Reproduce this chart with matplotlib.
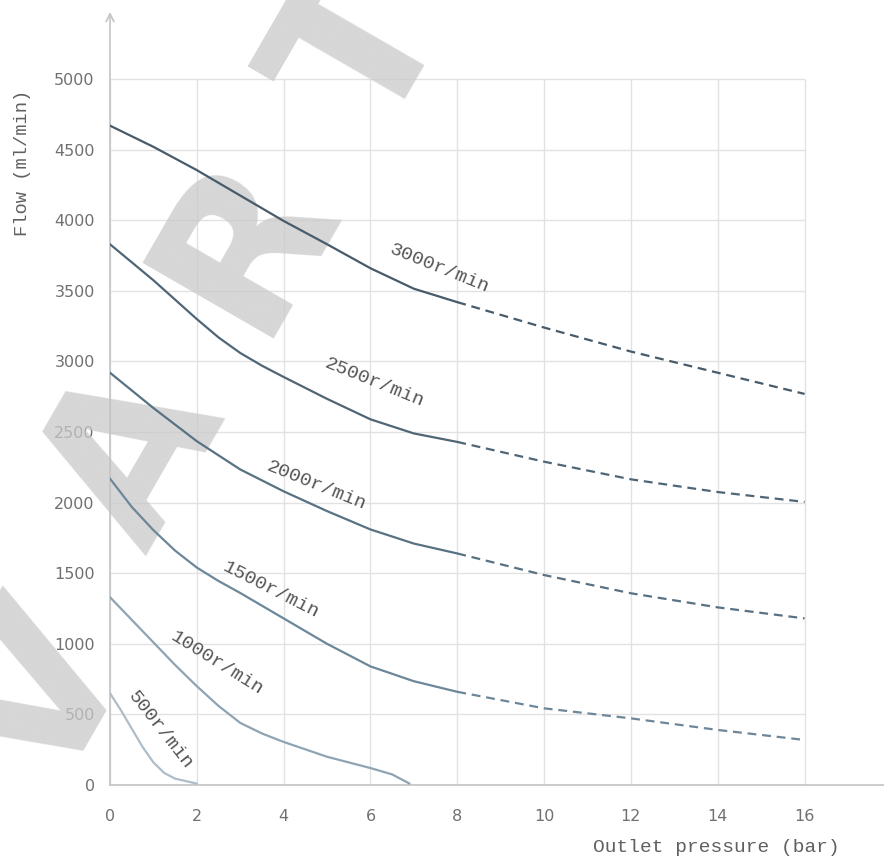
import numpy as np
import matplotlib.pyplot as plt

# pump curves, flow (ml/min) vs outlet pressure (bar)
speeds = ["3000r/min", "2500r/min", "2000r/min", "1500r/min", "1000r/min", "500r/min"]

p_3000 = [0, 1, 2, 3, 4, 5, 6, 7, 8]
q_3000 = [4670, 4520, 4355, 4175, 3995, 3830, 3660, 3515, 3420]
p_2500 = [0, 1, 2, 2.5, 3, 3.5, 4, 5, 6, 7, 8]
q_2500 = [3830, 3575, 3300, 3170, 3060, 2970, 2890, 2735, 2590, 2490, 2430]
p_2000 = [0, 1, 2, 3, 4, 5, 6, 7, 8]
q_2000 = [2920, 2670, 2435, 2235, 2080, 1940, 1810, 1710, 1640]
p_1500 = [0, 0.5, 1, 1.5, 2, 2.5, 3, 4, 5, 6, 7, 8]
q_1500 = [2170, 1970, 1805, 1660, 1540, 1445, 1360, 1180, 1000, 840, 735, 660]
p_1000 = [0, 0.5, 1, 1.5, 2, 2.5, 3, 3.5, 4, 5, 6, 6.5, 6.9]
q_1000 = [1330, 1170, 1010, 850, 700, 560, 440, 365, 305, 200, 120, 75, 10]
p_500 = [0, 0.25, 0.5, 0.75, 1, 1.25, 1.5, 2]
q_500 = [650, 530, 400, 270, 160, 85, 45, 10]

# dashed extrapolation 8 -> 16 bar
p_ext = [8, 10, 12, 14, 16]
q_ext_3000 = [3420, 3240, 3070, 2920, 2770]
q_ext_2500 = [2430, 2290, 2165, 2075, 2005]
q_ext_2000 = [1640, 1487, 1358, 1258, 1180]
q_ext_1500 = [660, 543, 472, 390, 319]

solid = [(p_3000, q_3000), (p_2500, q_2500), (p_2000, q_2000),
         (p_1500, q_1500), (p_1000, q_1000), (p_500, q_500)]
dashed = [q_ext_3000, q_ext_2500, q_ext_2000, q_ext_1500]
colors = ["#475b6b", "#4f6677", "#587283", "#6d879a", "#8ea4b3", "#aebdc8"]

# label placement (pressure, flow, angle)
label_x = [7.6, 6.1, 4.75, 3.7, 2.45, 1.15]
label_y = [3660, 2850, 2120, 1380, 860, 390]
label_rot = [-22, -22, -22, -27, -32, -52]

x_ticks = [0, 2, 4, 6, 8, 10, 12, 14, 16]
y_ticks = [0, 500, 1000, 1500, 2000, 2500, 3000, 3500, 4000, 4500, 5000]

fig = plt.figure(figsize=(8.84, 8.61), dpi=100)
ax = fig.add_axes([110 / 884, 1 - 785 / 861, 1 - 110 / 884, (785 - 12) / 861])
ax.set_xlim(0, 17.83)
ax.set_ylim(0, 5475)
for s in ax.spines.values():
    s.set_visible(False)

grid_c = "#e2e2e2"
ax.hlines(y_ticks, 0, 16, color=grid_c, lw=1, zorder=0)
ax.vlines(x_ticks, 0, 5000, color=grid_c, lw=1, zorder=0)

axis_c = "#c4c4c4"
ax.plot([0, 17.83], [0, 0], color=axis_c, lw=1.2, clip_on=False, zorder=1)
ax.annotate("", xy=(0, 5475), xytext=(0, 0),
            arrowprops=dict(arrowstyle="->", color=axis_c, lw=1.2,
                            shrinkA=0, shrinkB=0, mutation_scale=14))

# watermark letters, semi-transparent, under the curves
wm = dict(fontsize=150, fontweight="bold", family="DejaVu Sans", color="#c9c9c9", alpha=0.75,
          rotation=60, ha="center", va="center", rotation_mode="anchor", zorder=2,
          transform=fig.transFigure, clip_on=False)
for ch, px, py in [("V", 45, 700), ("A", 137, 457), ("R", 245, 240), ("T", 365, 52)]:
    ax.text(px / 884, 1 - py / 861, ch, **wm)

for (p, q), c in zip(solid, colors):
    ax.plot(p, q, color=c, lw=1.6, solid_capstyle="round", solid_joinstyle="round", zorder=3)
for q, c in zip(dashed, colors):
    ax.plot(p_ext, q, color=c, lw=1.6, ls=(0, (4, 2.6)), zorder=3)

for name, x, y, r in zip(speeds, label_x, label_y, label_rot):
    ax.text(x, y, name, rotation=r, rotation_mode="anchor", ha="center", va="center",
            fontsize=14, family="Liberation Mono", color="#555555", zorder=4)

ax.set_xticks(x_ticks)
ax.set_yticks(y_ticks)
ax.tick_params(length=0, labelsize=11.5, labelcolor="#707070")
ax.tick_params(axis="x", pad=17)
ax.tick_params(axis="y", pad=11)

fig.text(23 / 884, 1 - 163 / 861, "Flow (ml/min)", rotation=90, ha="center", va="center",
         fontsize=13.5, family="Liberation Mono", color="#606060")
fig.text(716 / 884, 1 - 848 / 861, "Outlet pressure (bar)", ha="center", va="center",
         fontsize=14, family="Liberation Mono", color="#606060")

fig.savefig("out.png", dpi=100)
